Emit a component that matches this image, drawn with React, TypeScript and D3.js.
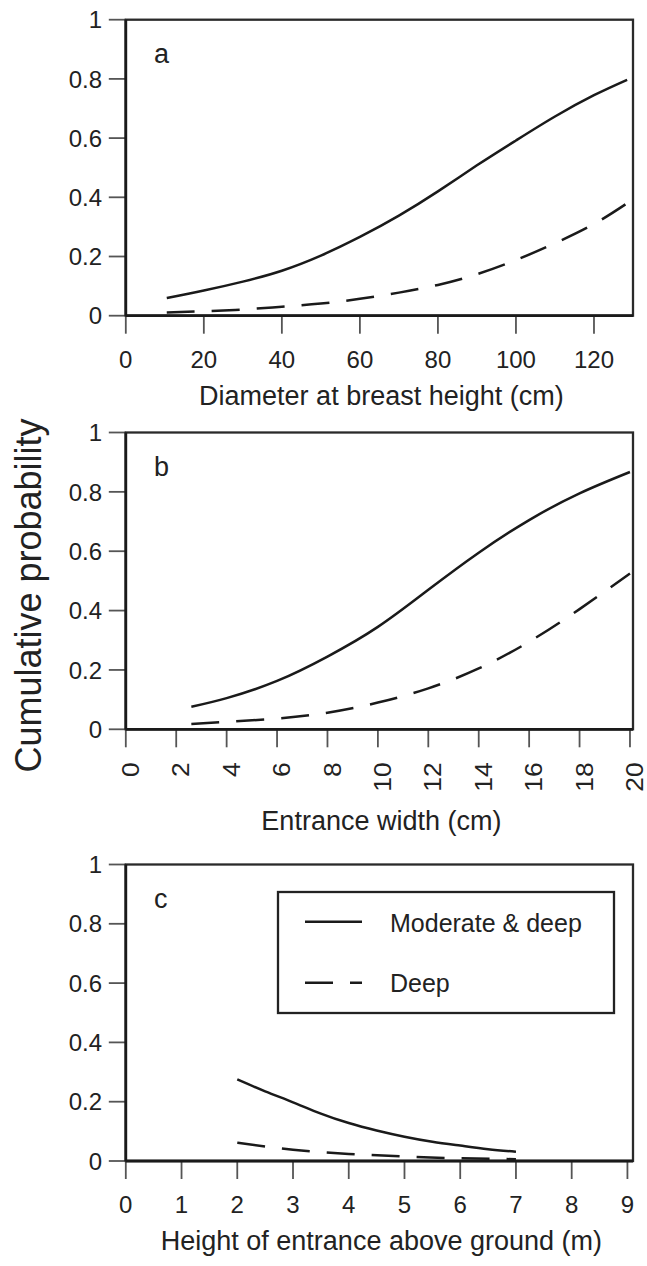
import React from "react";
import * as d3 from "d3";

// ---- axis ticks ----
const probTicks = [0, 0.2, 0.4, 0.6, 0.8, 1];
const dbhTicks = [0, 20, 40, 60, 80, 100, 120];
const widthTicks = [0, 2, 4, 6, 8, 10, 12, 14, 16, 18, 20];
const heightTicks = [0, 1, 2, 3, 4, 5, 6, 7, 8, 9];

// ---- series: [x, cumulative probability] ----
// (a) diameter at breast height (cm)
const dbhModerateDeep: [number, number][] = [
  [10.5, 0.06], [20, 0.085], [30, 0.115], [40, 0.152], [50, 0.203], [60, 0.266],
  [70, 0.338], [80, 0.42], [90, 0.508], [100, 0.592], [110, 0.673], [120, 0.745], [128.5, 0.797],
];
const dbhDeep: [number, number][] = [
  [10.5, 0.011], [20, 0.015], [30, 0.021], [40, 0.03], [50, 0.041], [60, 0.057],
  [70, 0.078], [80, 0.104], [90, 0.14], [100, 0.188], [110, 0.245], [120, 0.31], [128.5, 0.38],
];
// (b) entrance width (cm)
const widthModerateDeep: [number, number][] = [
  [2.6, 0.076], [4, 0.105], [6, 0.163], [8, 0.245], [10, 0.345], [12, 0.47],
  [14, 0.595], [16, 0.705], [18, 0.795], [20, 0.867],
];
const widthDeep: [number, number][] = [
  [2.6, 0.018], [4, 0.025], [6, 0.036], [8, 0.056], [10, 0.09], [12, 0.138],
  [14, 0.205], [16, 0.295], [18, 0.405], [20, 0.525],
];
// (c) height of entrance above ground (m)
const heightModerateDeep: [number, number][] = [
  [2, 0.275], [2.5, 0.235], [3, 0.198], [3.5, 0.16], [4, 0.128], [4.5, 0.103],
  [5, 0.082], [5.5, 0.065], [6, 0.052], [6.5, 0.04], [7, 0.031],
];
const heightDeep: [number, number][] = [
  [2, 0.062], [3, 0.038], [4, 0.024], [5, 0.015], [6, 0.009], [7, 0.006],
];

const seriesNames = ["Moderate & deep", "Deep"];
const yAxisTitle = "Cumulative probability";

const FONT = "'Liberation Sans', Arial, Helvetica, sans-serif";
const INK = "#1a1a1a";
const DASH = "28,17";

type Panel = {
  letter: string;
  title: string;
  xMax: number;
  ticks: number[];
  top: number;
  bottom: number;
  rotated: boolean;
  titleOffset: number;
  solid: [number, number][];
  dashed: [number, number][];
  legend?: boolean;
};

const panels: Panel[] = [
  { letter: "a", title: "Diameter at breast height (cm)", xMax: 130, ticks: dbhTicks,
    top: 19.7, bottom: 315.7, rotated: false, titleOffset: 89, solid: dbhModerateDeep, dashed: dbhDeep },
  { letter: "b", title: "Entrance width (cm)", xMax: 20.12, ticks: widthTicks,
    top: 432.5, bottom: 729.3, rotated: true, titleOffset: 101, solid: widthModerateDeep, dashed: widthDeep },
  { letter: "c", title: "Height of entrance above ground (m)", xMax: 9.1, ticks: heightTicks,
    top: 864.5, bottom: 1161, rotated: false, titleOffset: 89, solid: heightModerateDeep, dashed: heightDeep, legend: true },
];

const LEFT = 125.8;
const RIGHT = 633;

function PanelView({ p }: { p: Panel }) {
  const x = d3.scaleLinear().domain([0, p.xMax]).range([LEFT, RIGHT]);
  const y = d3.scaleLinear().domain([0, 1]).range([p.bottom, p.top]);
  const line = d3
    .line<[number, number]>()
    .x((d) => x(d[0]))
    .y((d) => y(d[1]))
    .curve(d3.curveNatural);
  const cx = (LEFT + RIGHT) / 2;

  return (
    <g>
      {/* y ticks */}
      {probTicks.map((t) => (
        <g key={"y" + t}>
          <line x1={LEFT - 17} x2={LEFT} y1={y(t)} y2={y(t)} stroke="#555" strokeWidth={1.8} />
          <text x={102} y={y(t)} dy="0.36em" textAnchor="end" fontSize={24} fill="#222" fontFamily={FONT}>
            {String(t)}
          </text>
        </g>
      ))}
      {/* x ticks */}
      {p.ticks.map((t) => (
        <g key={"x" + t}>
          <line x1={x(t)} x2={x(t)} y1={p.bottom} y2={p.bottom + 18} stroke="#555" strokeWidth={1.8} />
          {p.rotated ? (
            <text
              transform={`translate(${x(t) + 4.5},${p.bottom + 33}) rotate(-90) scale(1.1,1)`}
              dy="0.36em"
              textAnchor="end"
              fontSize={24}
              fill="#222"
              fontFamily={FONT}
            >
              {String(t)}
            </text>
          ) : (
            <text x={x(t)} y={p.bottom + 52} textAnchor="middle" fontSize={24} fill="#222" fontFamily={FONT}>
              {String(t)}
            </text>
          )}
        </g>
      ))}
      {/* frame */}
      <rect x={LEFT} y={p.top} width={RIGHT - LEFT} height={p.bottom - p.top} fill="none" stroke="#2a2a2a" strokeWidth={2.3} />
      <line x1={LEFT} x2={LEFT} y1={p.top} y2={p.bottom} stroke={INK} strokeWidth={2.8} />
      <line x1={LEFT} x2={RIGHT} y1={p.bottom} y2={p.bottom} stroke={INK} strokeWidth={2.8} />
      {/* curves */}
      <path d={line(p.solid) || ""} fill="none" stroke={INK} strokeWidth={2.5} />
      <path d={line(p.dashed) || ""} fill="none" stroke={INK} strokeWidth={2.5} strokeDasharray={DASH} />
      {/* panel letter */}
      <text x={154} y={p.top + 43.5} fontSize={27} fill="#222" fontFamily={FONT}>
        {p.letter}
      </text>
      {/* x-axis title */}
      <text x={cx + 2} y={p.bottom + p.titleOffset} textAnchor="middle" fontSize={27} fill="#222" fontFamily={FONT}>
        {p.title}
      </text>
      {p.legend && (
        <g>
          <rect x={278} y={892} width={336} height={121} fill="white" stroke="#222" strokeWidth={2.3} />
          <line x1={305} x2={362} y1={921.7} y2={921.7} stroke={INK} strokeWidth={2.5} />
          <text x={390} y={931.5} fontSize={25} fill="#222" fontFamily={FONT}>
            {seriesNames[0]}
          </text>
          <line x1={305} x2={362} y1={982.7} y2={982.7} stroke={INK} strokeWidth={2.5} strokeDasharray={DASH} />
          <text x={390} y={992} fontSize={25} fill="#222" fontFamily={FONT}>
            {seriesNames[1]}
          </text>
        </g>
      )}
    </g>
  );
}

export default function App() {
  return (
    <svg
      width={647}
      height={1266}
      viewBox="0 0 647 1266"
      style={{ position: "absolute", left: 0, top: 0, background: "white" }}
    >
      <rect x={0} y={0} width={647} height={1266} fill="white" />
      {panels.map((p) => (
        <PanelView key={p.letter} p={p} />
      ))}
      <text
        transform="translate(41,595.5) rotate(-90)"
        textAnchor="middle"
        fontSize={36}
        fill="#222"
        fontFamily={FONT}
      >
        {yAxisTitle}
      </text>
    </svg>
  );
}
